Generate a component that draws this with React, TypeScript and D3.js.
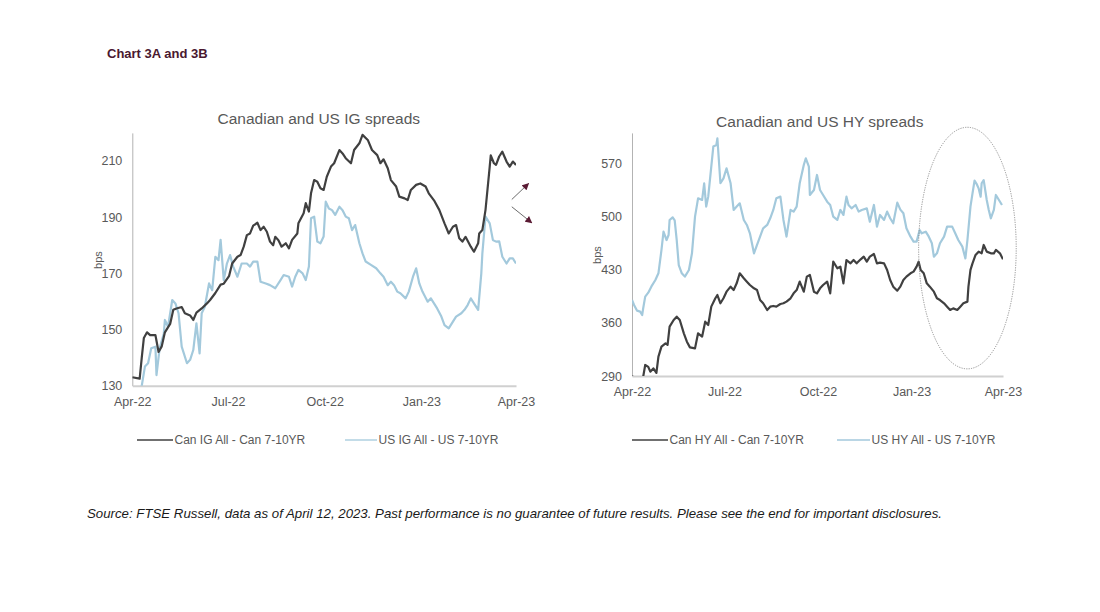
import React, { useEffect, useRef } from 'react';
import * as d3 from 'd3';

// [days since Apr 1 2022, spread in bps]
const canIG: [number, number][] = [
  [0, 133], [7, 132.5], [9, 140], [11, 147], [14, 149], [17, 148], [22, 148], [23, 146], [25, 142],
  [28, 144], [31, 149], [36, 152], [39, 157], [42, 157.5], [47, 158], [50, 155.8], [55, 155],
  [58, 153.4], [61, 156], [66, 157.5], [71, 159.3], [74, 160.5], [79, 163], [84, 166], [87, 166.3],
  [92, 169], [95, 173.5], [100, 175.9], [103, 176.5], [106, 179.5], [109, 183.6], [112, 184.2],
  [115, 187], [119, 188], [122, 185.4], [125, 186.6], [128, 184.8], [131, 181.3], [134, 180],
  [136, 183], [139, 181.8], [142, 179.5], [146, 180.7], [149, 178.9], [152, 181.9], [157, 184.2],
  [158, 187.8], [163, 191.4], [165, 195], [168, 192], [170, 198.5], [173, 203.2], [176, 202.6],
  [179, 200.3], [182, 199.7], [185, 204.4], [189, 208], [192, 209.2], [197, 213.9], [200, 212.7],
  [203, 211], [208, 209.2], [211, 213.9], [216, 216.3], [219, 219.3], [224, 217.5], [228, 213.9],
  [233, 212.1], [236, 209.2], [239, 210.6], [243, 207.4], [246, 203.2], [251, 200.9], [254, 197.3],
  [259, 196.7], [262, 196.1], [265, 199.7], [270, 201.5], [274, 202], [279, 200.9], [282, 198.5],
  [287, 196], [292, 192.6], [297, 187.8], [301, 184.2], [305, 186.6], [308, 187.2], [311, 182.5],
  [314, 181.3], [317, 183], [322, 179.5], [325, 177.7], [329, 180.7], [330, 184.2], [333, 185.4],
  [336, 192.6], [340, 208], [341, 212], [344, 209.2], [346, 208.6], [349, 211.6], [352, 213.3],
  [356, 209.8], [359, 208], [362, 209.8], [365, 208.6],
];

const usIG: [number, number][] = [
  [0, 124], [5, 126], [9, 130], [12, 136.8], [15, 138], [18, 143.3], [22, 143.9], [23, 133.8],
  [26, 143.3], [30, 148.6], [31, 153.4], [34, 151], [38, 160.5], [41, 159.3], [44, 155.8],
  [47, 143.9], [52, 138], [55, 139.2], [58, 142.7], [61, 152.2], [64, 141.5], [66, 155.8],
  [69, 158.1], [73, 166.4], [76, 164], [79, 175.9], [82, 174.7], [84, 181.9], [87, 167.6],
  [90, 173.5], [93, 176.5], [96, 172.4], [100, 168.8], [104, 173.5], [109, 173.5], [112, 172.4],
  [115, 174.2], [119, 174.2], [122, 167], [127, 166.4], [131, 165.8], [136, 164.7], [141, 167.6],
  [144, 169.4], [149, 168.8], [152, 165.3], [155, 168.8], [158, 171.2], [162, 170], [165, 167.6],
  [168, 172.4], [170, 189.6], [173, 190.2], [176, 181.3], [179, 180.7], [182, 183.1], [184, 195.5],
  [187, 193.1], [190, 192.5], [193, 190.8], [197, 193.7], [200, 192.5], [203, 190.2], [206, 189.6],
  [209, 185.4], [212, 187.2], [216, 180.7], [219, 177.1], [222, 174.2], [227, 173], [232, 171.8],
  [236, 170], [239, 168.8], [243, 165.8], [246, 167], [249, 165.8], [252, 163.5], [255, 162.9],
  [260, 161.1], [263, 163.5], [267, 168.8], [270, 171.8], [273, 166.4], [276, 163.5], [281, 159.9],
  [284, 161.1], [287, 159.3], [290, 157.5], [294, 154.6], [297, 151.6], [301, 150.4], [305, 152.8],
  [308, 154.6], [313, 155.8], [316, 157], [319, 158.7], [322, 161.1], [325, 159.3], [329, 157],
  [332, 170], [333, 177.1], [336, 190.2], [340, 187.8], [343, 181.9], [346, 181.3], [349, 181.4],
  [352, 175.9], [356, 173.5], [359, 175.3], [362, 175.3], [365, 173.5],
];

const canHY: [number, number][] = [
  [0, 290], [3, 286], [8, 285], [11, 289], [13, 304.5], [16, 302], [18, 295.7], [21, 300], [24, 294],
  [26, 315.5], [29, 328.6], [33, 333], [35, 331], [37, 355], [41, 363.7], [44, 368.1], [47, 363.7],
  [51, 346.2], [54, 335.2], [57, 327.7], [62, 326.4], [65, 346.2], [69, 341.8], [72, 361.5],
  [75, 357.1], [78, 381.3], [82, 392.3], [84, 396.6], [87, 385.7], [90, 392.3], [93, 401],
  [97, 407.6], [100, 403.2], [103, 412], [106, 425.2], [110, 418.6], [113, 414.2], [116, 409.8],
  [120, 405.4], [123, 403.2], [126, 390], [129, 385.7], [133, 376.9], [136, 381.3], [139, 382.2],
  [142, 381.3], [146, 384.8], [149, 385.7], [152, 387.9], [156, 392.3], [159, 398.8], [162, 403.2],
  [165, 414.2], [169, 401], [172, 420.8], [175, 423], [179, 401], [182, 398.8], [185, 405.4],
  [188, 409.8], [192, 414.2], [195, 398.8], [198, 440.5], [202, 431.8], [205, 434], [208, 412],
  [211, 442.7], [215, 438.3], [218, 442.7], [221, 438.3], [225, 443.6], [228, 447.1], [231, 440.5],
  [234, 447.1], [238, 450.6], [241, 438.3], [244, 439.2], [248, 438.3], [251, 429.6], [254, 416.4],
  [257, 407.6], [261, 402.3], [264, 407.6], [267, 416.4], [270, 420.8], [274, 425.2], [277, 427.4],
  [280, 434], [282, 440.5], [284, 429.6], [287, 425.2], [290, 412], [293, 407.6], [297, 401],
  [300, 392.3], [303, 390], [307, 385.7], [310, 381.3], [313, 376.9], [316, 379], [320, 376.9],
  [323, 381.3], [326, 385.7], [330, 387.9], [331, 407.6], [333, 429.6], [335, 438.3], [338, 449.3],
  [341, 453.7], [344, 451.5], [346, 462.5], [349, 453.7], [353, 451.5], [356, 451.5], [358, 455.9],
  [362, 451.5], [365, 443.6],
];

const usHY: [number, number][] = [
  [0, 390], [2, 383.5], [5, 376], [8, 374.7], [10, 370.3], [11, 379], [13, 394.5], [16, 399.7],
  [19, 407.6], [23, 416.4], [26, 425.2], [29, 455.9], [31, 480], [34, 469], [36, 475.6], [37, 495.4],
  [40, 498.9], [42, 495], [44, 469], [46, 436.1], [49, 425.2], [52, 420.8], [56, 429.6], [59, 451.5],
  [62, 499.8], [65, 523.9], [69, 521.7], [71, 543.7], [73, 513], [75, 526.1], [78, 565.6], [80, 592],
  [83, 594.1], [84, 602.9], [87, 543.7], [90, 550.2], [93, 563.4], [97, 543.7], [100, 508.6],
  [103, 513], [106, 517.3], [110, 495.4], [113, 488.8], [116, 477.8], [120, 451.5], [123, 462.5],
  [126, 473.4], [129, 484.4], [133, 488.8], [136, 497.6], [139, 508.6], [142, 523.9], [146, 526.1],
  [149, 495.4], [152, 473.4], [156, 508.6], [159, 506.4], [162, 513], [165, 543.7], [169, 567.8],
  [171, 576.6], [174, 565.6], [175, 528.3], [179, 534.8], [182, 554.6], [185, 534.8], [188, 528.3],
  [192, 519.5], [195, 515.1], [198, 499.8], [202, 495.4], [205, 508.6], [208, 502], [211, 526.1],
  [213, 515.1], [216, 510.7], [220, 515.1], [223, 506.4], [226, 508.6], [231, 510.7], [234, 493.2],
  [238, 515.1], [241, 486.6], [244, 502], [248, 495.4], [251, 506.4], [254, 497.6], [257, 491],
  [261, 518.2], [264, 509], [267, 504.2], [270, 484.4], [274, 473.4], [277, 466.9], [280, 466.9],
  [283, 482.2], [285, 477.8], [289, 480], [292, 473.4], [295, 464.7], [297, 447.1], [300, 451.5],
  [303, 464.7], [307, 473.4], [310, 486.6], [315, 486.6], [318, 477.8], [321, 469], [325, 460.3],
  [328, 444.7], [330, 469], [333, 513], [335, 530.5], [337, 547.2], [339, 543], [341, 537],
  [343, 526.1], [344, 543.7], [346, 547.9], [349, 521.7], [351, 508.6], [353, 497.6], [356, 508.6],
  [358, 528.3], [361, 521.7], [364, 515.1],
];

const tickDates = ['2022-04-01', '2022-07-01', '2022-10-01', '2023-01-01', '2023-04-01'];
const igTicks = [130, 150, 170, 190, 210];
const hyTicks = [290, 360, 430, 500, 570];
const igLegend = ['Can IG All - Can 7-10YR', 'US IG All - US 7-10YR'];
const hyLegend = ['Can HY All - Can 7-10YR', 'US HY All - US 7-10YR'];

const FONT = '"Liberation Sans", Arial, sans-serif';
const DARK = '#404040';
const LIGHT = '#a3c9dc';
const TEXT = '#595959';

const START = new Date(2022, 3, 1);
const END = new Date(2023, 3, 1);
const parse = d3.timeParse('%Y-%m-%d');

const App: React.FC = () => {
  const ref = useRef<SVGSVGElement>(null);

  useEffect(() => {
    if (!ref.current) return;
    const svg = d3.select(ref.current);
    svg.selectAll('*').remove();

    const defs = svg.append('defs');
    defs
      .append('marker')
      .attr('id', 'head')
      .attr('viewBox', '0 0 10 10')
      .attr('refX', 9)
      .attr('refY', 5)
      .attr('markerWidth', 7.5)
      .attr('markerHeight', 7)
      .attr('markerUnits', 'userSpaceOnUse')
      .attr('orient', 'auto')
      .append('path')
      .attr('d', 'M0,0 L10,5 L0,10 z')
      .attr('fill', '#5a1a33');

    svg
      .append('text')
      .attr('x', 107)
      .attr('y', 57.5)
      .attr('font-family', FONT)
      .attr('font-size', 13)
      .attr('font-weight', 'bold')
      .attr('fill', '#4a1830')
      .text('Chart 3A and 3B');

    svg
      .append('text')
      .attr('x', 87)
      .attr('y', 517.5)
      .attr('font-family', FONT)
      .attr('font-size', 13)
      .attr('font-style', 'italic')
      .attr('fill', '#1a1a1a')
      .attr('textLength', 855)
      .attr('lengthAdjust', 'spacingAndGlyphs')
      .text(
        'Source: FTSE Russell, data as of April 12, 2023. Past performance is no guarantee of future results. Please see the end for important disclosures.'
      );

    const panels = [
      {
        id: 'ig',
        left: 132.3, right: 516, top: 132.9, bottom: 385.7,
        domain: [130, 220], ticks: igTicks,
        title: 'Canadian and US IG spreads', titleX: 318.8, titleY: 123.5,
        bpsX: 99.3, bpsY: 260,
        series: [canIG, usIG], legend: igLegend,
        legendX: [137, 345], legendW: [36, 32],
      },
      {
        id: 'hy',
        left: 632, right: 1003, top: 132.9, bottom: 376,
        domain: [290, 610], ticks: hyTicks,
        title: 'Canadian and US HY spreads', titleX: 819.8, titleY: 127,
        bpsX: 598.3, bpsY: 255,
        series: [canHY, usHY], legend: hyLegend,
        legendX: [632, 837], legendW: [36, 33],
      },
    ];

    panels.forEach((p) => {
      const x = d3.scaleTime().domain([START, END]).range([p.left, p.right]);
      const y = d3.scaleLinear().domain(p.domain).range([p.bottom, p.top]);
      const g = svg.append('g');

      defs
        .append('clipPath')
        .attr('id', `clip-${p.id}`)
        .append('rect')
        .attr('x', p.left)
        .attr('y', p.top)
        .attr('width', p.right - p.left)
        .attr('height', p.bottom - p.top);

      // title
      g.append('text')
        .attr('x', p.titleX)
        .attr('y', p.titleY)
        .attr('text-anchor', 'middle')
        .attr('font-family', FONT)
        .attr('font-size', 15.5)
        .attr('fill', TEXT)
        .text(p.title);

      // y axis
      const yAxis = g
        .append('g')
        .attr('transform', `translate(${p.left},0)`)
        .call(d3.axisLeft(y).tickValues(p.ticks).tickSize(0).tickPadding(10));
      yAxis.select('.domain').attr('stroke', '#b3b3b3').attr('stroke-width', 1);
      yAxis
        .selectAll('text')
        .attr('font-family', FONT)
        .attr('font-size', 12.5)
        .attr('fill', TEXT);

      // x axis
      const xAxis = g
        .append('g')
        .attr('transform', `translate(0,${p.bottom})`)
        .call(
          d3
            .axisBottom(x)
            .tickValues(tickDates.map((d) => parse(d) as Date))
            .tickFormat((d) => d3.timeFormat('%b-%y')(d as Date))
            .tickSize(0)
            .tickPadding(11)
        );
      xAxis.select('.domain').attr('stroke', '#d0d0d0').attr('stroke-width', 2);
      xAxis
        .selectAll('text')
        .attr('font-family', FONT)
        .attr('font-size', 12.5)
        .attr('fill', TEXT);

      g.append('text')
        .attr('transform', `translate(${p.bpsX},${p.bpsY}) rotate(-90)`)
        .attr('text-anchor', 'middle')
        .attr('dominant-baseline', 'middle')
        .attr('font-family', FONT)
        .attr('font-size', 11)
        .attr('fill', TEXT)
        .text('bps');

      const line = d3
        .line<[number, number]>()
        .x((d) => x(d3.timeDay.offset(START, d[0])))
        .y((d) => y(d[1]));

      // light series first, dark on top
      [1, 0].forEach((i) => {
        g.append('path')
          .datum(p.series[i])
          .attr('clip-path', `url(#clip-${p.id})`)
          .attr('d', line)
          .attr('fill', 'none')
          .attr('stroke', i === 0 ? DARK : LIGHT)
          .attr('stroke-width', 2.2)
          .attr('stroke-linejoin', 'round');
      });

      // legend
      p.legend.forEach((label, i) => {
        const lx = p.legendX[i];
        g.append('line')
          .attr('x1', lx)
          .attr('x2', lx + p.legendW[i])
          .attr('y1', 440)
          .attr('y2', 440)
          .attr('stroke', i === 0 ? DARK : LIGHT)
          .attr('stroke-width', i === 0 ? 1.6 : 1.3);
        g.append('text')
          .attr('x', lx + p.legendW[i] + 1.5)
          .attr('y', 444)
          .attr('font-family', FONT)
          .attr('font-size', 12)
          .attr('fill', TEXT)
          .text(label);
      });

      // annotations
      if (p.id === 'ig') {
        const arrows = [
          [[361, 196.3], [377.5, 202]],
          [[361, 193.7], [380, 188]],
        ];
        arrows.forEach(([a, b]) => {
          g.append('line')
            .attr('x1', x(d3.timeDay.offset(START, a[0])))
            .attr('y1', y(a[1]))
            .attr('x2', x(d3.timeDay.offset(START, b[0])))
            .attr('y2', y(b[1]))
            .attr('stroke', '#6b6b6b')
            .attr('stroke-width', 1)
            .attr('marker-end', 'url(#head)');
        });
      } else {
        const cx = x(d3.timeDay.offset(START, 330));
        const rx = x(d3.timeDay.offset(START, 378.5)) - cx;
        g.append('ellipse')
          .attr('cx', cx)
          .attr('cy', y(458.4))
          .attr('rx', rx)
          .attr('ry', y(290) - y(449))
          .attr('fill', 'none')
          .attr('stroke', '#7a7a7a')
          .attr('stroke-width', 0.8)
          .attr('stroke-dasharray', '1.2,1.2');
      }
    });
  }, []);

  return (
    <svg
      ref={ref}
      width={1100}
      height={612}
      style={{ position: 'absolute', left: 0, top: 0, background: '#fff' }}
    />
  );
};

export default App;
